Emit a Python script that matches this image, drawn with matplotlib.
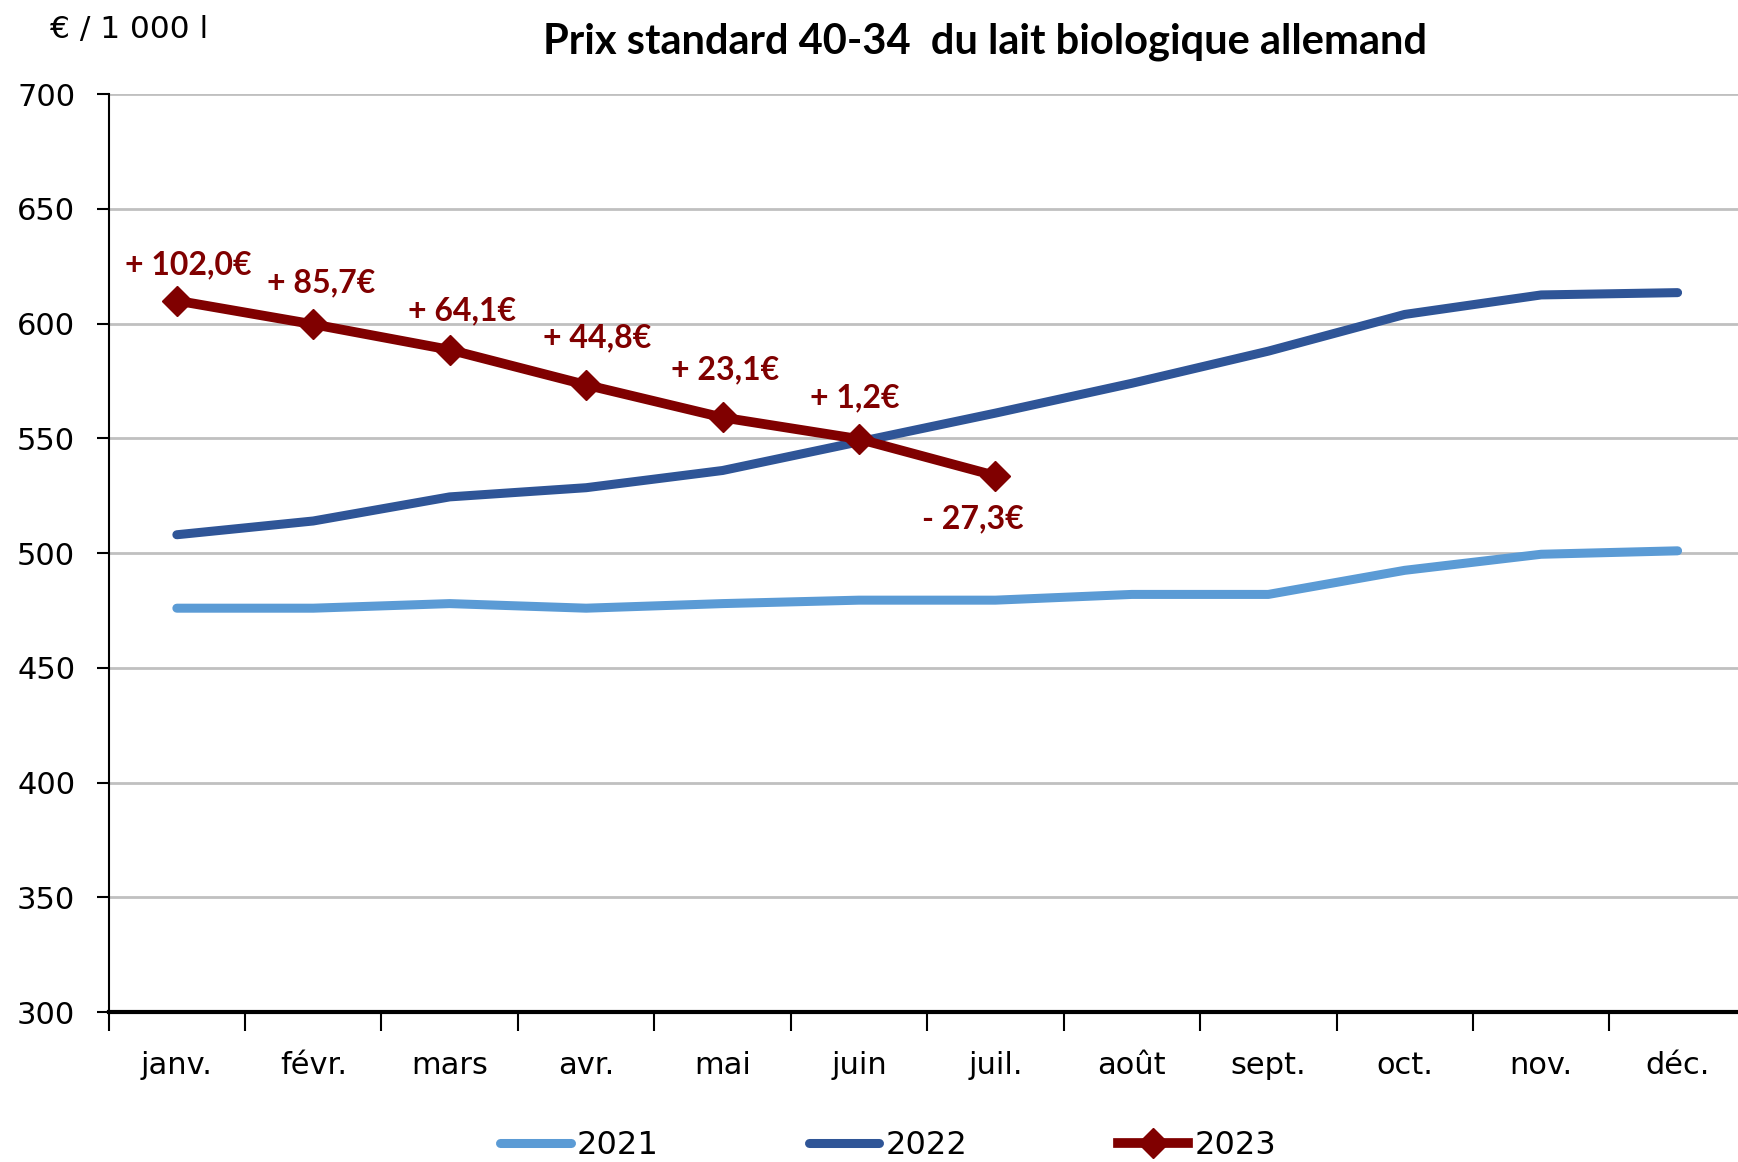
import numpy as np
import matplotlib
matplotlib.use("Agg")
from matplotlib import pyplot as plt

plt.rc('font', family=['DejaVu Sans'])

mois = ['janv.', 'févr.', 'mars', 'avr.', 'mai', 'juin', 'juil.',
        'août', 'sept.', 'oct.', 'nov.', 'déc.']
prix_2021 = [476, 476, 478, 476, 478, 479.5, 479.5, 482, 482, 492.5, 499.5, 501]
prix_2022 = [508, 514, 524.5, 528.5, 536, 548.5, 561, 574, 588, 604, 612.5, 613.5]
prix_2023 = [610.0, 599.7, 588.6, 573.3, 559.1, 549.7, 533.7]
ecarts = ['+ 102,0€', '+ 85,7€', '+ 64,1€', '+ 44,8€', '+ 23,1€', '+ 1,2€', '- 27,3€']
# decalage des etiquettes (points)
decal = [(8, 26), (6, 30), (9, 28), (8, 34), (2, 34), (-3, 30), (-16, -31)]

c21 = '#5B9BD5'
c22 = '#2F5597'
c23 = '#800000'

fig = plt.figure(figsize=(17.38, 11.62), dpi=100)
ax = fig.add_axes([0.0625, 0.129, 0.942, 0.790])

x = np.arange(len(mois))
ax.plot(x, prix_2021, color=c21, lw=6.5, solid_capstyle='round', label='2021', zorder=3)
ax.plot(x, prix_2022, color=c22, lw=6.5, solid_capstyle='round', label='2022', zorder=3)
ax.plot(x[:len(prix_2023)], prix_2023, color=c23, lw=7, marker='D', ms=15,
        label='2023', zorder=4)

for i, (v, t) in enumerate(zip(prix_2023, ecarts)):
    ax.annotate(t, (i, v), xytext=decal[i], textcoords='offset points',
                ha='center', va='center', color=c23, fontsize=23,
                fontweight='bold', family=['Lato', 'DejaVu Sans'], zorder=5)

ax.set_xlim(-0.5, 11.5)
ax.set_ylim(300, 700)
ax.set_yticks(np.arange(300, 701, 50))
ax.yaxis.grid(True, color='#C0C0C0', lw=2)
ax.set_axisbelow(True)
ax.set_xticks(np.arange(-0.5, 12, 1))
ax.set_xticklabels([])
ax.set_xticks(x, minor=True)
ax.set_xticklabels(mois, minor=True)
ax.tick_params(axis='x', which='major', length=14, width=1.5, direction='out')
ax.tick_params(axis='x', which='minor', length=0, pad=28, labelsize=22)
ax.tick_params(axis='y', length=9, width=1.5, labelsize=22, pad=15)
for s in ['top', 'right']:
    ax.spines[s].set_visible(False)
ax.spines['left'].set_linewidth(1.5)
ax.spines['bottom'].set_linewidth(3)

fig.text(0.567, 0.964, 'Prix standard 40-34  du lait biologique allemand',
         ha='center', va='center', fontsize=30, fontweight='bold',
         family=['Lato', 'DejaVu Sans'])
fig.text(0.029, 0.975, '€ / 1 000 l', ha='left', va='center', fontsize=22.5)

fig.legend(loc='lower center', bbox_to_anchor=(0.511, -0.024), ncol=3, frameon=False,
           fontsize=23, handlelength=2.2, columnspacing=4.7, handletextpad=0.2)

fig.savefig('out.png', dpi=100)
